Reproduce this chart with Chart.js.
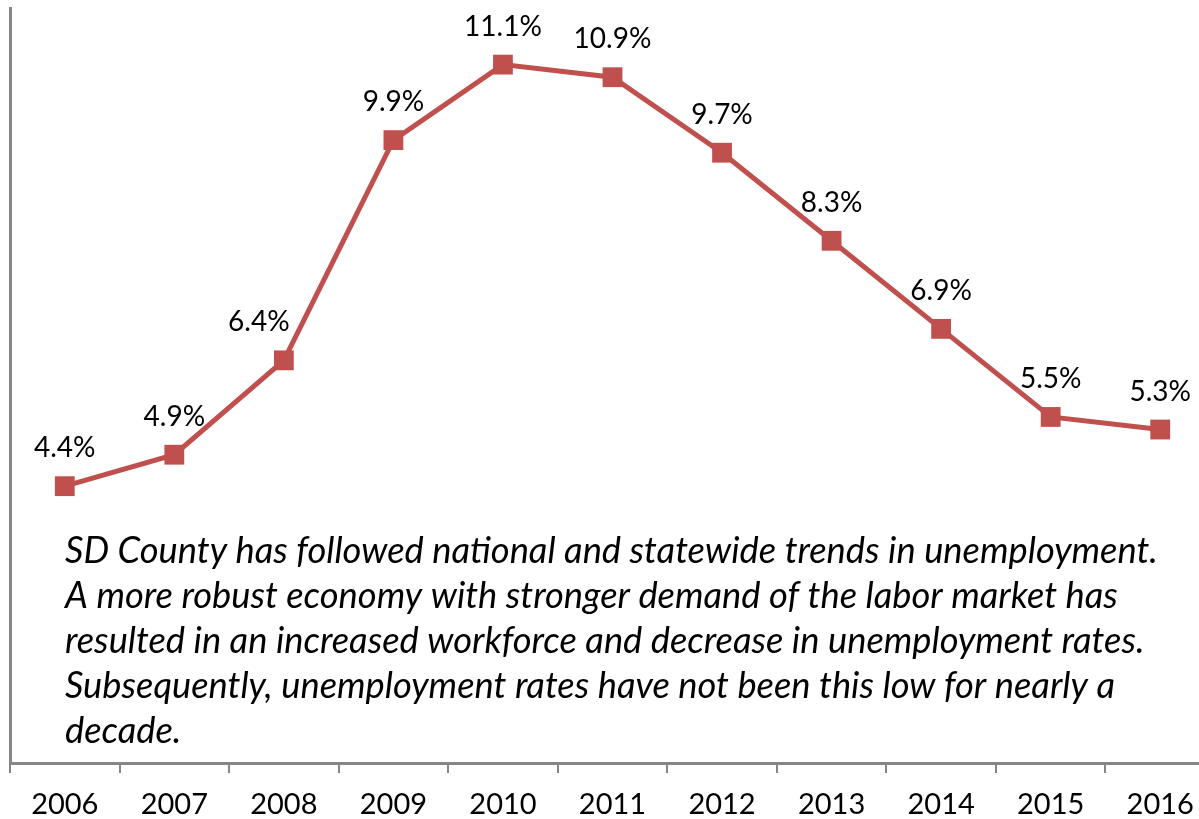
<!DOCTYPE html>
<html>
<head>
<meta charset="utf-8">
<script src="https://cdn.jsdelivr.net/npm/chart.js@4.4.0/dist/chart.umd.min.js"></script>
<style>
  html, body { margin: 0; padding: 0; background: #fff; overflow: hidden; }
  canvas { display: block; }
</style>
</head>
<body>
<canvas id="chart" width="1215" height="819"></canvas>
<script>
var years = ['2006', '2007', '2008', '2009', '2010', '2011', '2012', '2013', '2014', '2015', '2016'];
var unemployment = [4.4, 4.9, 6.4, 9.9, 11.1, 10.9, 9.7, 8.3, 6.9, 5.5, 5.3];

var note = [
  'SD County has followed national and statewide trends in unemployment.',
  'A more robust economy with stronger demand of the labor market has',
  'resulted in an increased workforce and decrease in unemployment rates.',
  'Subsequently, unemployment rates have not been this low for nearly a',
  'decade.'
];

const RED = '#C0504D';
const AXIS = '#868686';

// value labels above each marker (2008 is nudged left off the line)
const pointLabels = {
  id: 'pointLabels',
  afterDatasetsDraw(chart) {
    const ctx = chart.ctx;
    const meta = chart.getDatasetMeta(0);
    ctx.save();
    ctx.font = '28px Lato';
    ctx.fillStyle = '#000';
    ctx.textAlign = 'center';
    ctx.textBaseline = 'middle';
    meta.data.forEach(function (pt, i) {
      const dx = i === 2 ? -25 : 0;
      ctx.fillText(unemployment[i].toFixed(1) + '%', pt.x + dx, pt.y - 38);
    });
    ctx.restore();
  }
};

// commentary block inside the plot area, first line sized to span ~1092px
const noteText = {
  id: 'noteText',
  afterDraw(chart) {
    const ctx = chart.ctx;
    ctx.save();
    ctx.font = 'italic 36px Lato';
    const w = ctx.measureText(note[0]).width;
    const size = 36 * 1092 / w;
    ctx.font = 'italic ' + size.toFixed(1) + 'px Lato';
    ctx.fillStyle = '#000';
    ctx.textAlign = 'left';
    ctx.textBaseline = 'alphabetic';
    note.forEach(function (line, i) {
      ctx.fillText(line, 65, 563 + i * 45);
    });
    ctx.restore();
  }
};

const config = {
  type: 'line',
  data: {
    labels: years,
    datasets: [{
      data: unemployment,
      borderColor: RED,
      backgroundColor: RED,
      borderWidth: 5,
      pointStyle: 'rect',
      pointRadius: 14,
      pointBorderWidth: 0,
      pointBackgroundColor: RED,
      tension: 0,
      fill: false
    }]
  },
  options: {
    responsive: false,
    animation: false,
    layout: { autoPadding: false, padding: { left: 10, top: 8, right: 0, bottom: 0 } },
    plugins: {
      legend: { display: false },
      tooltip: { enabled: false },
      title: { display: false }
    },
    scales: {
      x: {
        type: 'category',
        offset: true,
        afterFit(scale) { scale.height = 56; },
        grid: {
          offset: true,
          drawOnChartArea: false,
          drawTicks: true,
          tickLength: 10,
          color: AXIS,
          lineWidth: 2
        },
        border: { display: true, color: AXIS, width: 3 },
        ticks: {
          color: '#000',
          font: { family: 'Lato', size: 29 },
          padding: 14,
          maxRotation: 0
        }
      },
      y: {
        min: 0,
        max: 12,
        grid: { display: false, drawTicks: false },
        border: { display: true, color: AXIS, width: 3 },
        ticks: { display: false }
      }
    }
  },
  plugins: [pointLabels, noteText]
};

var myChart = new Chart(document.getElementById('chart'), config);
</script>
</body>
</html>
